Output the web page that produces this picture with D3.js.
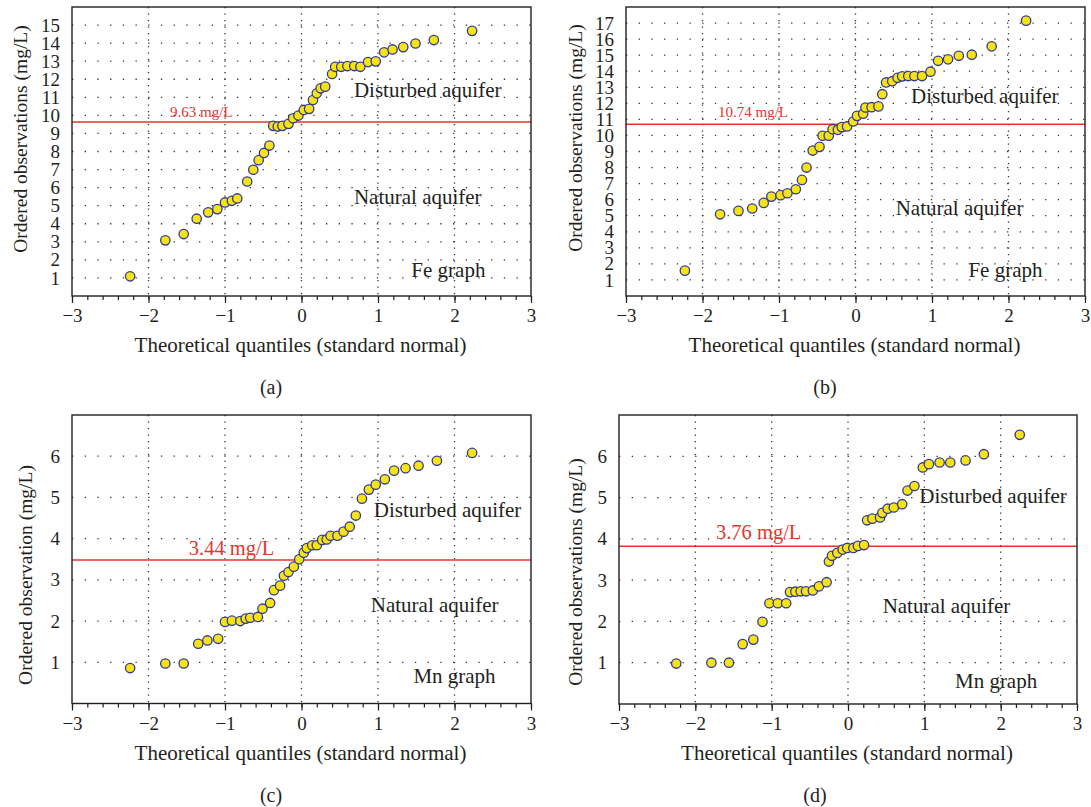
<!DOCTYPE html>
<html>
<head>
<meta charset="utf-8">
<script src="https://d3js.org/d3.v7.min.js"></script>
<style>
  * { margin: 0; padding: 0; }
  body { background: #fff; width: 1091px; height: 807px; overflow: hidden; }
  text { font-family: "Liberation Serif", "DejaVu Serif", serif; fill: #231f20; }
</style>
</head>
<body>
<div id="chart"></div>
<script>
// ---- data ----
// theoretical quantiles (x) and ordered observations (y), 40 samples each panel
const quantA = [-2.24, -1.78, -1.54, -1.37, -1.22, -1.10, -1.00, -0.91, -0.84, -0.71,
  -0.63, -0.56, -0.49, -0.42, -0.37, -0.31, -0.25, -0.17, -0.11, -0.04,
  0.03, 0.10, 0.15, 0.20, 0.25, 0.31, 0.40, 0.44, 0.52, 0.60,
  0.69, 0.77, 0.87, 0.97, 1.08, 1.19, 1.33, 1.49, 1.73, 2.23];
const feA = [1.09, 3.08, 3.43, 4.28, 4.63, 4.81, 5.18, 5.27, 5.40, 6.34,
  6.99, 7.52, 7.92, 8.33, 9.42, 9.38, 9.42, 9.53, 9.84, 9.99,
  10.30, 10.36, 10.85, 11.22, 11.50, 11.59, 12.29, 12.69, 12.69, 12.73,
  12.73, 12.69, 12.95, 12.99, 13.49, 13.65, 13.78, 13.98, 14.17, 14.68];

const quantB = [-2.23, -1.77, -1.53, -1.35, -1.20, -1.10, -0.98, -0.89, -0.78, -0.70,
  -0.64, -0.56, -0.47, -0.43, -0.35, -0.30, -0.23, -0.18, -0.11, -0.03,
  0.02, 0.10, 0.13, 0.21, 0.30, 0.35, 0.40, 0.48, 0.55, 0.61,
  0.69, 0.77, 0.87, 0.98, 1.08, 1.21, 1.35, 1.52, 1.78, 2.23];
const feB = [1.58, 5.09, 5.30, 5.45, 5.80, 6.19, 6.28, 6.40, 6.65, 7.23,
  8.00, 9.06, 9.29, 9.98, 9.98, 10.39, 10.35, 10.52, 10.56, 10.87,
  11.22, 11.35, 11.74, 11.76, 11.81, 12.57, 13.30, 13.38, 13.59, 13.68,
  13.70, 13.70, 13.70, 13.97, 14.65, 14.74, 14.96, 15.03, 15.55, 17.15];

const quantC = [-2.24, -1.78, -1.54, -1.35, -1.23, -1.09, -1.00, -0.91, -0.80, -0.73,
  -0.67, -0.57, -0.51, -0.41, -0.36, -0.28, -0.23, -0.17, -0.10, -0.03,
  0.03, 0.07, 0.14, 0.20, 0.27, 0.33, 0.38, 0.47, 0.55, 0.63,
  0.71, 0.79, 0.88, 0.97, 1.09, 1.21, 1.36, 1.53, 1.77, 2.23];
const mnC = [0.86, 0.97, 0.97, 1.45, 1.53, 1.57, 1.98, 2.01, 2.00, 2.06,
  2.08, 2.10, 2.30, 2.44, 2.75, 2.86, 3.10, 3.19, 3.32, 3.50,
  3.66, 3.77, 3.84, 3.84, 3.97, 3.98, 4.07, 4.07, 4.17, 4.29,
  4.56, 4.97, 5.19, 5.31, 5.44, 5.65, 5.71, 5.77, 5.89, 6.08];

const quantD = [-2.25, -1.79, -1.56, -1.38, -1.24, -1.12, -1.03, -0.92, -0.81, -0.76,
  -0.69, -0.62, -0.55, -0.46, -0.38, -0.28, -0.25, -0.21, -0.14, -0.07,
  -0.01, 0.07, 0.13, 0.21, 0.25, 0.32, 0.42, 0.45, 0.52, 0.60,
  0.71, 0.78, 0.87, 0.98, 1.06, 1.20, 1.34, 1.54, 1.78, 2.25];
const mnD = [0.98, 1.00, 1.00, 1.45, 1.56, 1.99, 2.44, 2.44, 2.44, 2.71,
  2.72, 2.73, 2.73, 2.75, 2.85, 2.95, 3.45, 3.59, 3.66, 3.74,
  3.78, 3.78, 3.83, 3.85, 4.45, 4.49, 4.52, 4.63, 4.73, 4.76,
  4.84, 5.17, 5.28, 5.73, 5.81, 5.85, 5.85, 5.90, 6.05, 6.52];

// threshold lines (drawn level) and their labels
const thresholdLevels = [9.63, 10.70, 3.48, 3.82];
const thresholdLabels = ["9.63 mg/L", "10.74 mg/L", "3.44 mg/L", "3.76 mg/L"];

const xTicks = [-3, -2, -1, 0, 1, 2, 3];
const yTicksA = [1, 2, 3, 4, 5, 6, 7, 8, 9, 10, 11, 12, 13, 14, 15];
const yTicksB = [1, 2, 3, 4, 5, 6, 7, 8, 9, 10, 11, 12, 13, 14, 15, 16, 17];
const yTicksMn = [1, 2, 3, 4, 5, 6];

const yTitles = ["Ordered observations (mg/L)", "Ordered observations (mg/L)",
  "Ordered observation (mg/L)", "Ordered observations (mg/L)"];
const graphNames = ["Fe graph", "Fe graph", "Mn graph", "Mn graph"];
const captions = ["(a)", "(b)", "(c)", "(d)"];
const xTitle = "Theoretical quantiles (standard normal)";

const FONT = '"Liberation Serif", "DejaVu Serif", serif';
const fmt = d => d < 0 ? "\u2212" + (-d) : String(d);

// ---- layout (pixels) ----
const panels = [
  { xs: quantA, ys: feA, yMax: 16, yTicks: yTicksA, left: 72, right: 531, top: 7, bottom: 296,
    thrFs: 15, thrPos: [-1.31, 9.9], dist: [1.65, 11.0], nat: [1.52, 5.1], name: [1.92, 1.05],
    yTitleX: 21, yTitleY: 139, capX: 271 },
  { xs: quantB, ys: feB, yMax: 18, yTicks: yTicksB, left: 626, right: 1085, top: 7, bottom: 296,
    thrFs: 15, thrPos: [-1.34, 11.15], dist: [1.69, 12.0], nat: [1.36, 5.04], name: [1.96, 1.18],
    yTitleX: 576, yTitleY: 138, capX: 825 },
  { xs: quantC, ys: mnC, yMax: 7, yTicks: yTicksMn, left: 72, right: 531, top: 415, bottom: 703.5,
    thrFs: 20.5, thrPos: [-0.915, 3.6], dist: [1.91, 4.53], nat: [1.74, 2.22], name: [2.0, 0.5],
    yTitleX: 26, yTitleY: 575, capX: 271 },
  { xs: quantD, ys: mnD, yMax: 7, yTicks: yTicksMn, left: 619, right: 1077, top: 415, bottom: 704,
    thrFs: 20.5, thrPos: [-1.17, 4.0], dist: [1.90, 4.87], nat: [1.29, 2.20], name: [1.94, 0.39],
    yTitleX: 576, yTitleY: 572, capX: 815 }
];

const svg = d3.select("#chart").append("svg")
  .attr("width", 1091)
  .attr("height", 807);

panels.forEach((p, i) => {
  let x = d3.scaleLinear().domain([-3, 3]).range([p.left, p.right]);
  let y = d3.scaleLinear().domain([0, p.yMax]).range([p.bottom, p.top]);
  let g = svg.append("g");

  // dotted grid
  g.selectAll(".hgrid").data(p.yTicks).enter().append("line")
    .attr("x1", p.left).attr("x2", p.right)
    .attr("y1", d => y(d)).attr("y2", d => y(d))
    .attr("stroke", "#333").attr("stroke-width", 1.3)
    .attr("stroke-dasharray", "1.3,11.4");
  g.selectAll(".vgrid").data([-2, -1, 0, 1, 2]).enter().append("line")
    .attr("x1", d => x(d)).attr("x2", d => x(d))
    .attr("y1", p.top).attr("y2", p.bottom)
    .attr("stroke", "#333").attr("stroke-width", 1.3)
    .attr("stroke-dasharray", "1.3,5.2");

  // threshold
  let thr = thresholdLevels[i];
  g.append("line")
    .attr("x1", p.left).attr("x2", p.right)
    .attr("y1", y(thr)).attr("y2", y(thr))
    .attr("stroke", "#e5352d").attr("stroke-width", 1.5);
  g.append("text")
    .attr("x", x(p.thrPos[0])).attr("y", y(p.thrPos[1]))
    .attr("text-anchor", "middle")
    .style("font-family", FONT)
    .style("font-size", p.thrFs + "px")
    .style("fill", "#e5352d")
    .text(thresholdLabels[i]);

  // annotations
  [[p.dist, "Disturbed aquifer"], [p.nat, "Natural aquifer"], [p.name, graphNames[i]]].forEach(a => {
    g.append("text")
      .attr("x", x(a[0][0])).attr("y", y(a[0][1]))
      .attr("text-anchor", "middle")
      .style("font-family", FONT)
      .style("font-size", "21px")
      .text(a[1]);
  });

  // points
  let pts = p.xs.map((q, k) => ({ q: q, v: p.ys[k] }));
  g.selectAll("circle").data(pts).enter().append("circle")
    .attr("cx", d => x(d.q))
    .attr("cy", d => y(d.v))
    .attr("r", 4.7)
    .attr("fill", "#f7e30f")
    .attr("stroke", "#2f3a9c")
    .attr("stroke-width", 1.3);

  // frame
  g.append("rect")
    .attr("x", p.left).attr("y", p.top)
    .attr("width", p.right - p.left).attr("height", p.bottom - p.top)
    .attr("fill", "none").attr("stroke", "#231f20").attr("stroke-width", 1.4);

  // x axis: minor + major ticks
  g.append("g")
    .attr("transform", "translate(0," + p.bottom + ")")
    .call(d3.axisBottom(x).tickValues(d3.range(-3, 3.001, 0.2)).tickSize(4).tickFormat(""))
    .call(a => a.select(".domain").remove())
    .call(a => a.selectAll("line").attr("stroke", "#231f20").attr("stroke-width", 1.2));
  g.append("g")
    .attr("transform", "translate(0," + p.bottom + ")")
    .call(d3.axisBottom(x).tickValues(xTicks).tickSize(7).tickPadding(6).tickFormat(fmt))
    .call(a => a.select(".domain").remove())
    .call(a => a.selectAll("line").attr("stroke", "#231f20").attr("stroke-width", 1.2))
    .call(a => a.selectAll("text").style("font-size", "19px").style("font-family", FONT));

  // y axis labels
  g.append("g")
    .attr("transform", "translate(" + p.left + ",0)")
    .call(d3.axisLeft(y).tickValues(p.yTicks).tickSize(0).tickPadding(12).tickFormat(fmt))
    .call(a => a.select(".domain").remove())
    .call(a => a.selectAll("text").style("font-size", "19px").style("font-family", FONT));

  // titles
  g.append("text")
    .attr("transform", "translate(" + p.yTitleX + "," + p.yTitleY + ") rotate(-90)")
    .attr("text-anchor", "middle")
    .attr("dy", "0.32em")
    .style("font-family", FONT)
    .style("font-size", "19.5px")
    .text(yTitles[i]);
  g.append("text")
    .attr("x", (p.left + p.right) / 2 - 1).attr("y", p.bottom + 56)
    .attr("text-anchor", "middle")
    .style("font-family", FONT)
    .style("font-size", "21px")
    .text(xTitle);
  g.append("text")
    .attr("x", p.capX).attr("y", p.bottom + 98)
    .attr("text-anchor", "middle")
    .style("font-family", FONT)
    .style("font-size", "20px")
    .text(captions[i]);
});
</script>
</body>
</html>
